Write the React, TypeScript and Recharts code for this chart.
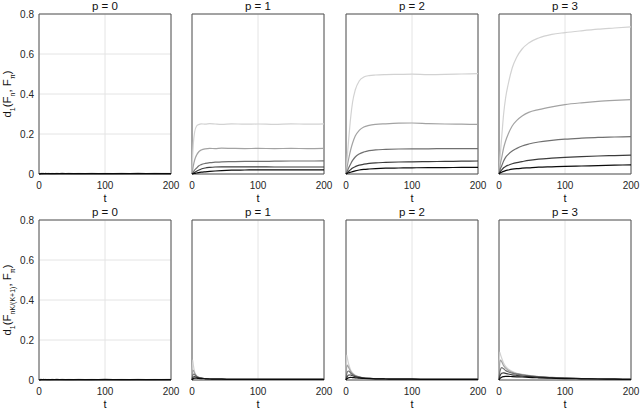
import React from "react";
import { LineChart, Line, XAxis, YAxis, CartesianGrid, ReferenceArea } from "recharts";

// sample times shared by every curve
const T = [0, 1, 2, 4, 7, 10, 14, 20, 27, 35, 45, 60, 80, 100, 125, 150, 175, 200];

const P_VALUES = [0, 1, 2, 3];
const X_TICKS = [0, 100, 200];
const Y_TICKS = [0, 0.2, 0.4, 0.6, 0.8];

// lightest -> darkest
const SHADES = ["#d2d2d2", "#a3a3a3", "#707070", "#3c3c3c", "#0a0a0a"];

// top row: d1(F_n, F_pi)
const TOP_P0 = [
    [0, 0.002, 0.003, 0.003, 0.002, 0.003, 0.002, 0.003, 0.002, 0.003, 0.002, 0.003, 0.002, 0.003, 0.002, 0.003, 0.002, 0.003],
    [0, 0.002, 0.002, 0.003, 0.003, 0.002, 0.003, 0.002, 0.003, 0.002, 0.003, 0.002, 0.003, 0.002, 0.003, 0.002, 0.003, 0.002],
    [0, 0.001, 0.002, 0.002, 0.002, 0.003, 0.002, 0.002, 0.002, 0.003, 0.002, 0.002, 0.002, 0.002, 0.002, 0.003, 0.002, 0.002],
    [0, 0.001, 0.002, 0.002, 0.002, 0.002, 0.002, 0.002, 0.002, 0.002, 0.002, 0.002, 0.002, 0.002, 0.002, 0.002, 0.002, 0.002],
    [0, 0.001, 0.001, 0.002, 0.002, 0.002, 0.002, 0.002, 0.002, 0.002, 0.002, 0.002, 0.002, 0.002, 0.002, 0.002, 0.002, 0.002]
];
const TOP_P1 = [
    [0, 0.09, 0.15, 0.21, 0.24, 0.247, 0.251, 0.249, 0.252, 0.25, 0.248, 0.251, 0.249, 0.25, 0.248, 0.251, 0.249, 0.251],
    [0, 0.02, 0.04, 0.07, 0.095, 0.11, 0.12, 0.126, 0.128, 0.127, 0.129, 0.128, 0.127, 0.128, 0.127, 0.128, 0.127, 0.128],
    [0, 0.005, 0.01, 0.02, 0.03, 0.04, 0.047, 0.053, 0.057, 0.059, 0.061, 0.062, 0.063, 0.063, 0.064, 0.065, 0.065, 0.066],
    [0, 0.002, 0.004, 0.008, 0.014, 0.019, 0.025, 0.03, 0.033, 0.035, 0.036, 0.036, 0.036, 0.036, 0.035, 0.035, 0.035, 0.035],
    [0, 0.001, 0.002, 0.003, 0.005, 0.007, 0.009, 0.011, 0.013, 0.015, 0.017, 0.019, 0.02, 0.021, 0.021, 0.021, 0.021, 0.021]
];
const TOP_P2 = [
    [0, 0.05, 0.09, 0.17, 0.28, 0.36, 0.42, 0.465, 0.485, 0.492, 0.495, 0.497, 0.498, 0.499, 0.497, 0.498, 0.5, 0.502],
    [0, 0.02, 0.04, 0.075, 0.12, 0.155, 0.19, 0.218, 0.235, 0.243, 0.248, 0.251, 0.254, 0.255, 0.252, 0.25, 0.249, 0.248],
    [0, 0.008, 0.015, 0.03, 0.05, 0.068, 0.085, 0.1, 0.11, 0.117, 0.121, 0.123, 0.125, 0.126, 0.126, 0.127, 0.127, 0.127],
    [0, 0.004, 0.007, 0.013, 0.022, 0.03, 0.037, 0.044, 0.049, 0.053, 0.056, 0.058, 0.06, 0.061, 0.062, 0.063, 0.064, 0.065],
    [0, 0.002, 0.003, 0.006, 0.009, 0.012, 0.016, 0.02, 0.023, 0.025, 0.027, 0.029, 0.03, 0.031, 0.032, 0.032, 0.033, 0.033]
];
const TOP_P3 = [
    [0, 0.05, 0.1, 0.18, 0.3, 0.38, 0.45, 0.53, 0.585, 0.625, 0.655, 0.68, 0.698, 0.707, 0.716, 0.724, 0.73, 0.736],
    [0, 0.025, 0.05, 0.08, 0.13, 0.165, 0.2, 0.24, 0.268, 0.29, 0.308, 0.322, 0.336, 0.347, 0.356, 0.363, 0.368, 0.372],
    [0, 0.012, 0.025, 0.04, 0.065, 0.083, 0.098, 0.115, 0.128, 0.14, 0.15, 0.16, 0.168, 0.174, 0.179, 0.183, 0.185, 0.187],
    [0, 0.006, 0.012, 0.02, 0.031, 0.038, 0.044, 0.051, 0.057, 0.062, 0.068, 0.074, 0.079, 0.083, 0.087, 0.09, 0.092, 0.094],
    [0, 0.003, 0.006, 0.009, 0.013, 0.017, 0.02, 0.024, 0.027, 0.029, 0.031, 0.034, 0.036, 0.038, 0.04, 0.042, 0.044, 0.046]
];

// bottom row: d1(F_nK/(K+1), F_pi)
const BOT_P0 = [
    [0, 0.003, 0.003, 0.002, 0.003, 0.002, 0.003, 0.002, 0.003, 0.002, 0.003, 0.002, 0.003, 0.002, 0.003, 0.002, 0.003, 0.002],
    [0, 0.002, 0.003, 0.003, 0.002, 0.003, 0.002, 0.003, 0.002, 0.003, 0.002, 0.003, 0.002, 0.003, 0.002, 0.003, 0.002, 0.003],
    [0, 0.002, 0.002, 0.002, 0.003, 0.002, 0.002, 0.002, 0.003, 0.002, 0.002, 0.002, 0.002, 0.003, 0.002, 0.002, 0.002, 0.002],
    [0, 0.001, 0.002, 0.002, 0.002, 0.002, 0.002, 0.002, 0.002, 0.002, 0.002, 0.002, 0.002, 0.002, 0.002, 0.002, 0.002, 0.002],
    [0, 0.001, 0.001, 0.002, 0.002, 0.002, 0.002, 0.002, 0.002, 0.002, 0.002, 0.002, 0.002, 0.002, 0.002, 0.002, 0.002, 0.002]
];
const BOT_P1 = [
    [0, 0.1, 0.075, 0.04, 0.02, 0.012, 0.008, 0.006, 0.005, 0.004, 0.004, 0.003, 0.003, 0.003, 0.003, 0.003, 0.003, 0.003],
    [0, 0.05, 0.048, 0.033, 0.02, 0.013, 0.009, 0.006, 0.005, 0.004, 0.004, 0.003, 0.003, 0.003, 0.003, 0.003, 0.003, 0.003],
    [0, 0.022, 0.03, 0.026, 0.018, 0.013, 0.009, 0.007, 0.005, 0.004, 0.004, 0.003, 0.003, 0.003, 0.003, 0.003, 0.003, 0.003],
    [0, 0.01, 0.015, 0.017, 0.014, 0.011, 0.009, 0.007, 0.005, 0.004, 0.004, 0.003, 0.003, 0.003, 0.003, 0.003, 0.003, 0.003],
    [0, 0.004, 0.006, 0.009, 0.009, 0.008, 0.007, 0.006, 0.005, 0.004, 0.004, 0.003, 0.003, 0.003, 0.003, 0.003, 0.003, 0.003]
];
const BOT_P2 = [
    [0, 0.125, 0.11, 0.08, 0.05, 0.035, 0.024, 0.016, 0.011, 0.008, 0.006, 0.005, 0.004, 0.004, 0.003, 0.003, 0.003, 0.003],
    [0, 0.065, 0.075, 0.062, 0.043, 0.031, 0.022, 0.015, 0.011, 0.008, 0.006, 0.005, 0.004, 0.004, 0.003, 0.003, 0.003, 0.003],
    [0, 0.028, 0.04, 0.045, 0.035, 0.027, 0.02, 0.014, 0.01, 0.008, 0.006, 0.005, 0.004, 0.004, 0.003, 0.003, 0.003, 0.003],
    [0, 0.012, 0.018, 0.025, 0.025, 0.021, 0.017, 0.013, 0.01, 0.008, 0.006, 0.005, 0.004, 0.004, 0.003, 0.003, 0.003, 0.003],
    [0, 0.005, 0.008, 0.011, 0.013, 0.012, 0.011, 0.009, 0.008, 0.007, 0.006, 0.005, 0.004, 0.004, 0.003, 0.003, 0.003, 0.003]
];
const BOT_P3 = [
    [0, 0.14, 0.13, 0.11, 0.085, 0.068, 0.055, 0.043, 0.034, 0.028, 0.023, 0.017, 0.013, 0.01, 0.007, 0.005, 0.004, 0.003],
    [0, 0.08, 0.1, 0.092, 0.072, 0.059, 0.049, 0.039, 0.032, 0.027, 0.022, 0.017, 0.013, 0.01, 0.007, 0.005, 0.004, 0.003],
    [0, 0.035, 0.05, 0.062, 0.056, 0.048, 0.041, 0.034, 0.029, 0.025, 0.021, 0.016, 0.012, 0.009, 0.007, 0.005, 0.004, 0.003],
    [0, 0.015, 0.024, 0.034, 0.036, 0.033, 0.03, 0.026, 0.023, 0.02, 0.018, 0.015, 0.011, 0.009, 0.007, 0.005, 0.004, 0.003],
    [0, 0.005, 0.009, 0.014, 0.017, 0.018, 0.018, 0.017, 0.016, 0.015, 0.013, 0.011, 0.009, 0.007, 0.006, 0.005, 0.004, 0.003]
];

const TOP_ROW = [TOP_P0, TOP_P1, TOP_P2, TOP_P3];
const BOTTOM_ROW = [BOT_P0, BOT_P1, BOT_P2, BOT_P3];

const FONT = '"Liberation Sans", Arial, Helvetica, sans-serif';
const COL_LEFT = [39, 192, 346, 499];
const ROW_TOP = [14, 220];
const PLOT_W = 132;
const PLOT_H = 160;
const Y_AXIS_W = 30;
const PAD_TOP = 8;

const toRows = (series: number[][]) =>
    T.map((t, i) => {
        const row: Record<string, number> = { t };
        series.forEach((s, k) => (row[`s${k}`] = s[i]));
        return row;
    });

function Panel({ series, left, top, showY }: { series: number[][]; left: number; top: number; showY: boolean }) {
    const data = toRows(series);
    return (
        <div style={{ position: "absolute", left: left - Y_AXIS_W, top: top - PAD_TOP }}>
            <LineChart
                width={Y_AXIS_W + PLOT_W + 14}
                height={PAD_TOP + PLOT_H + 18}
                data={data}
                margin={{ top: PAD_TOP, right: 14, left: 0, bottom: 0 }}
            >
                <CartesianGrid stroke="#e4e4e4" strokeWidth={1} />
                <XAxis
                    dataKey="t"
                    type="number"
                    domain={[0, 200]}
                    ticks={X_TICKS}
                    interval={0}
                    height={18}
                    axisLine={false}
                    tickLine={false}
                    tickSize={4}
                    tickMargin={4}
                    tick={{ fontSize: 10, fill: "#262626", fontFamily: FONT }}
                />
                <YAxis
                    type="number"
                    domain={[0, 0.8]}
                    ticks={Y_TICKS}
                    interval={0}
                    width={Y_AXIS_W}
                    axisLine={false}
                    tickLine={false}
                    tickSize={3}
                    tickMargin={2}
                    tick={showY ? { fontSize: 10, fill: "#262626", fontFamily: FONT } : false}
                />
                {series.map((_, k) => (
                    <Line
                        key={k}
                        dataKey={`s${k}`}
                        type="monotone"
                        stroke={SHADES[k]}
                        strokeWidth={1.2}
                        dot={false}
                        isAnimationActive={false}
                    />
                ))}
                <ReferenceArea x1={0} x2={200} y1={0} y2={0.8} fill="none" stroke="#555" strokeWidth={1} />
            </LineChart>
        </div>
    );
}

const text = (s: React.CSSProperties): React.CSSProperties => ({
    position: "absolute",
    fontFamily: FONT,
    color: "#111",
    whiteSpace: "nowrap",
    lineHeight: "11px",
    ...s
});

export default function App() {
    const rows = [TOP_ROW, BOTTOM_ROW];
    return (
        <div style={{ position: "absolute", left: 0, top: 0, width: 640, height: 412, background: "#fff", overflow: "hidden" }}>
            {rows.map((row, r) =>
                row.map((series, c) => (
                    <React.Fragment key={`${r}-${c}`}>
                        <Panel series={series} left={COL_LEFT[c]} top={ROW_TOP[r]} showY={c === 0} />
                        <div style={text({ left: COL_LEFT[c], width: PLOT_W, top: ROW_TOP[r] - 13, textAlign: "center", fontSize: 11.5 })}>
                            p = {P_VALUES[c]}
                        </div>
                        <div style={text({ left: COL_LEFT[c], width: PLOT_W, top: ROW_TOP[r] + PLOT_H + 19, textAlign: "center", fontSize: 11 })}>
                            t
                        </div>
                    </React.Fragment>
                ))
            )}
            <div style={text({ left: 10, top: ROW_TOP[0] + PLOT_H / 2, fontSize: 11.5, transform: "translate(-50%, -50%) rotate(-90deg)" })}>
                d<sub style={{ fontSize: 7 }}>1</sub>(F<sub style={{ fontSize: 7 }}>n</sub>, F<sub style={{ fontSize: 7 }}>π</sub>)
            </div>
            <div style={text({ left: 10, top: ROW_TOP[1] + PLOT_H / 2, fontSize: 11.5, transform: "translate(-50%, -50%) rotate(-90deg)" })}>
                d<sub style={{ fontSize: 7 }}>1</sub>(F<sub style={{ fontSize: 7 }}>nK/(K+1)</sub>, F<sub style={{ fontSize: 7 }}>π</sub>)
            </div>
        </div>
    );
}
